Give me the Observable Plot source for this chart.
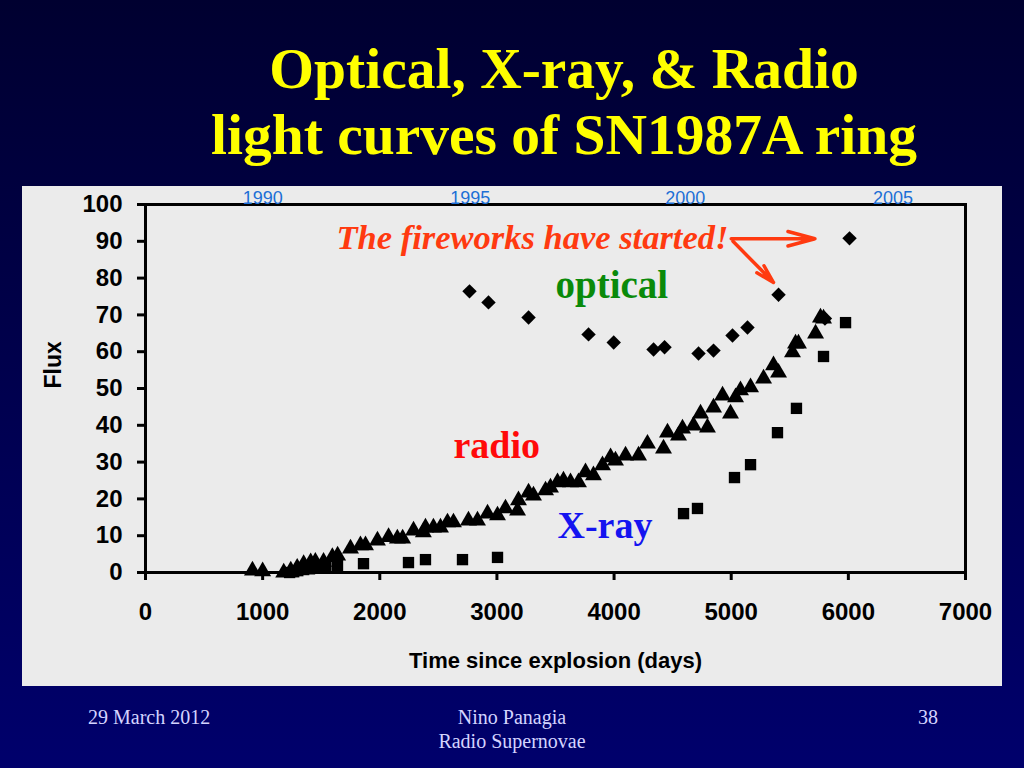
<!DOCTYPE html>
<html>
<head>
<meta charset="utf-8">
<script src="https://cdn.jsdelivr.net/npm/d3@7"></script>
<script src="https://cdn.jsdelivr.net/npm/@observablehq/plot@0.6"></script>
<style>
html, body { margin: 0; padding: 0; background: #000040; }
#slide { position: relative; width: 1024px; height: 768px; overflow: hidden;
  background: linear-gradient(#000030, #00006c);
  font-family: "Liberation Serif", "Times New Roman", serif; }
.title { position: absolute; left: 104px; width: 920px; text-align: center; color: #ffff00;
  font-weight: bold; font-size: 57.5px; line-height: 57px; white-space: nowrap; }
.foot { position: absolute; color: #d4d4ff; font-size: 20px; line-height: 20px; white-space: nowrap; }
#panel { position: absolute; left: 22px; top: 186px; width: 980px; height: 500px; background: #ebebeb; }
</style>
</head>
<body>
<div id="slide">
  <div class="title" style="top:40px">Optical, X-ray, &amp; Radio</div>
  <div class="title" style="top:106px">light curves of SN1987A ring</div>
  <div id="panel"></div>
  <div class="foot" style="left:88px; top:707px">29 March 2012</div>
  <div class="foot" style="left:312px; width:400px; text-align:center; top:707px">Nino Panagia</div>
  <div class="foot" style="left:312px; width:400px; text-align:center; top:731px">Radio Supernovae</div>
  <div class="foot" style="left:918px; top:707px">38</div>
</div>
<script>
// ---- data ----
const xTicks = [0, 1000, 2000, 3000, 4000, 5000, 6000, 7000];
const yTicks = [0, 10, 20, 30, 40, 50, 60, 70, 80, 90, 100];

const yearLabels = ["1990", "1995", "2000", "2005"];
const yearDays = [1000, 2773, 4608, 6382];

const radioDays = [913, 1000, 1180, 1240, 1295, 1350, 1410, 1450, 1520, 1595, 1640, 1750, 1835, 1878, 1980,
  2075, 2150, 2195, 2288, 2372, 2390, 2458, 2518, 2578, 2629, 2757, 2834, 2920, 3005, 3073, 3176, 3184,
  3270, 3312, 3415, 3457, 3517, 3568, 3628, 3696, 3756, 3824, 3901, 3970, 4012, 4098, 4209, 4285, 4422,
  4456, 4550, 4584, 4678, 4738, 4797, 4849, 4926, 4994, 5037, 5079, 5165, 5276, 5361, 5404, 5523, 5549,
  5574, 5720, 5762, 5788];
const radioFlux = [0.5, 0.3, 0.0, 0.5, 1.3, 2.3, 2.8, 2.9, 2.9, 4.2, 4.6, 6.5, 7.4, 7.4, 8.7,
  9.6, 9.2, 9.2, 11.4, 10.9, 12.2, 12.2, 12.2, 13.6, 13.6, 14.1, 14.1, 16.0, 15.5, 17.4, 16.8, 19.6,
  21.7, 20.9, 22.3, 23.1, 24.5, 25.0, 24.5, 24.5, 27.2, 26.4, 29.1, 31.3, 30.4, 31.8, 31.8, 35.0, 33.7,
  38.0, 37.2, 39.1, 39.9, 43.2, 39.4, 44.8, 48.1, 43.2, 47.6, 49.5, 50.3, 52.7, 56.3, 54.3, 59.8, 62.2,
  62.2, 64.9, 69.3, 69.0];

const opticalDays = [2766, 2928, 3270, 3782, 3997, 4337, 4431, 4721, 4849, 5011, 5139, 5404, 5800, 6010];
const opticalFlux = [76.4, 73.4, 69.3, 64.7, 62.5, 60.6, 61.2, 59.5, 60.3, 64.4, 66.6, 75.5, 69.0, 90.8];

const xrayDays = [1230, 1265, 1300, 1350, 1400, 1460, 1540, 1639, 1861, 2245, 2390, 2706, 3005,
  4593, 4712, 5028, 5165, 5395, 5557, 5788, 5976];
const xrayFlux = [0.0, 0.2, 0.5, 0.8, 1.0, 1.2, 1.5, 1.9, 2.4, 2.7, 3.5, 3.5, 4.1,
  16.0, 17.4, 25.8, 29.3, 38.0, 44.6, 58.7, 67.9];

const noteTexts = ["The fireworks have started!", "optical", "radio", "X-ray"];
const noteDays = [1630, 3500, 2629, 3517];
const noteFlux = [88.0, 74.5, 31.0, 9.5];

const arrowFromDay = [5000, 5015];
const arrowFromFlux = [90.7, 90.0];
const arrowToDay = [5715, 5361];
const arrowToFlux = [90.7, 78.8];

// ---- chart ----
const serif = "'Liberation Serif', 'Times New Roman', serif";
const sans = "'Liberation Sans', Arial, sans-serif";

const chart = Plot.plot({
  width: 980,
  height: 500,
  marginLeft: 123,
  marginRight: 37,
  marginTop: 18,
  marginBottom: 114,
  style: { background: "#ebebeb", fontFamily: sans, color: "black", overflow: "visible" },
  x: { domain: [0, 7000] },
  y: { domain: [0, 100] },
  marks: [
    Plot.axisY(yTicks, { tickSize: 8, tickPadding: 15, strokeWidth: 3, fontSize: 24, fontWeight: "bold", tickFormat: "d", label: null }),
    Plot.axisX(xTicks, { tickSize: 8, tickPadding: 22, strokeWidth: 3, fontSize: 24, fontWeight: "bold", tickFormat: "d", label: null }),
    Plot.frame({ stroke: "black", strokeWidth: 3 }),
    Plot.text(["Time since explosion (days)"], { text: d => d, frameAnchor: "bottom", dy: 95, lineAnchor: "bottom", fontSize: 22, fontWeight: "bold", fontFamily: sans }),
    Plot.text(["Flux"], { text: d => d, frameAnchor: "left", dx: -85, rotate: -90, lineAnchor: "bottom", fontSize: 23, fontWeight: "bold", fontFamily: sans }),
    Plot.text(yearLabels, { x: yearDays, text: yearLabels, frameAnchor: "top", lineAnchor: "bottom", dy: -1, fill: "#1c6fd6", fontSize: 18, fontFamily: sans }),
    Plot.dot(xrayDays, { x: xrayDays, y: xrayFlux, symbol: "square", r: 6.4, fill: "black", stroke: "none" }),
    Plot.dot(radioDays, { x: radioDays, y: radioFlux, symbol: "triangle", r: 6.3, fill: "black", stroke: "none" }),
    Plot.dot(opticalDays, { x: opticalDays, y: opticalFlux, symbol: "diamond2", r: 6.5, fill: "black", stroke: "none" }),
    Plot.arrow(arrowFromDay, { x1: arrowFromDay, y1: arrowFromFlux, x2: arrowToDay, y2: arrowToFlux, stroke: "#ff3a10", strokeWidth: 3.5, headLength: 18, headAngle: 30 }),
    Plot.text([noteTexts[0]], { x: [noteDays[0]], y: [noteFlux[0]], text: d => d, textAnchor: "start", lineAnchor: "bottom", fill: "#ff3a10", fontSize: 34.5, fontWeight: "bold", fontStyle: "italic", fontFamily: serif }),
    Plot.text([noteTexts[1]], { x: [noteDays[1]], y: [noteFlux[1]], text: d => d, textAnchor: "start", lineAnchor: "bottom", fill: "#0a8a0a", fontSize: 39, fontWeight: "bold", fontFamily: serif }),
    Plot.text([noteTexts[2]], { x: [noteDays[2]], y: [noteFlux[2]], text: d => d, textAnchor: "start", lineAnchor: "bottom", fill: "#ff0a0a", fontSize: 38, fontWeight: "bold", fontFamily: serif }),
    Plot.text([noteTexts[3]], { x: [noteDays[3]], y: [noteFlux[3]], text: d => d, textAnchor: "start", lineAnchor: "bottom", fill: "#1414f0", fontSize: 38, fontWeight: "bold", fontFamily: serif })
  ]
});
document.getElementById("panel").appendChild(chart);
</script>
</body>
</html>
